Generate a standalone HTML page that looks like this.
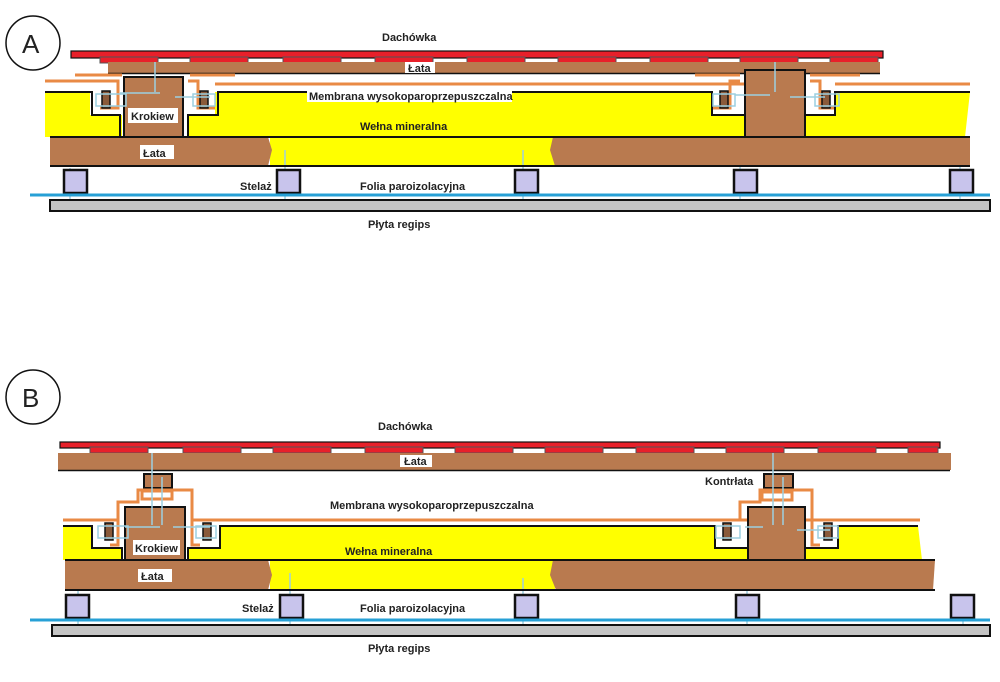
<!DOCTYPE html>
<html><head><meta charset="utf-8"><style>
html,body{margin:0;padding:0;background:#fff;width:1000px;height:682px;overflow:hidden}
svg{display:block}
text{font-family:"Liberation Sans",sans-serif;font-size:11px;font-weight:bold;fill:#222}
</style></head><body>
<svg width="1000" height="682" viewBox="0 0 1000 682" xmlns="http://www.w3.org/2000/svg">
<defs>
<g id="tiles">
 <rect x="0" y="0" width="815" height="6" fill="#e8202a" stroke="#111" stroke-width="1"/>
</g>
</defs>

<!-- ===== A ===== -->
<circle cx="33" cy="43" r="27" fill="#fff" stroke="#111" stroke-width="1.5"/>
<text x="22" y="53" style="font-size:26px;font-weight:normal">A</text>
<text x="382" y="41">Dachówka</text>
<!-- tiles -->
<rect x="71" y="51" width="812" height="7" fill="#e8202a" stroke="#111" stroke-width="1.2"/>
<g fill="#e8202a" stroke="#555" stroke-width="1">
 <rect x="100" y="57" width="58" height="6"/><rect x="190" y="57" width="58" height="6"/><rect x="283" y="57" width="58" height="6"/><rect x="375" y="57" width="58" height="6"/><rect x="467" y="57" width="58" height="6"/><rect x="558" y="57" width="58" height="6"/><rect x="650" y="57" width="58" height="6"/><rect x="740" y="57" width="58" height="6"/><rect x="830" y="57" width="48" height="6"/>
</g>
<rect x="108" y="62" width="772" height="11" fill="#b97a4f"/>
<line x1="108" y1="73.5" x2="880" y2="73.5" stroke="#111" stroke-width="1.5"/>
<rect x="405" y="62" width="30" height="11" fill="#fff"/><text x="408" y="72">Łata</text>
<!-- membrane orange -->
<g stroke="#e98a45" stroke-width="3" fill="none">
 <polyline points="45,81 118,81 118,108 100,108"/>
 <polyline points="75,75 122,75"/>
 <polyline points="190,75 235,75"/>
 <polyline points="188,81 198,81 198,108 215,108"/>
 <line x1="215" y1="84" x2="745" y2="84"/>
 <polyline points="695,75 740,75"/><polyline points="810,75 860,75"/>
 <polyline points="740,81 730,81 730,108 712,108"/>
 <polyline points="810,81 820,81 820,108 835,108"/>
 <line x1="835" y1="84" x2="970" y2="84"/>
</g>
<!-- wool A -->
<path d="M45,92 L90,92 L90,115 L122,115 L122,137 L45,137 Z" fill="#ffff00"/>
<path d="M188,137 L188,115 L215,115 L215,92 L712,92 L712,115 L745,115 L745,137 Z" fill="#ffff00"/>
<path d="M805,137 L805,115 L835,115 L835,92 L970,92 L965,137 Z" fill="#ffff00"/>
<rect x="270" y="137" width="285" height="29" fill="#ffff00"/>
<g stroke="#111" stroke-width="2" fill="none">
 <polyline points="45,92 92,92 92,115 120,115 120,137"/>
 <polyline points="188,137 188,115 218,115 218,92 712,92 712,115 745,115"/>
 <polyline points="805,115 835,115 835,92 970,92"/>
</g>
<!-- rafters A -->
<rect x="124" y="77" width="59" height="60" fill="#b97a4f" stroke="#111" stroke-width="2"/>
<rect x="745" y="70" width="60" height="67" fill="#b97a4f" stroke="#111" stroke-width="2"/>
<rect x="128" y="108" width="50" height="15" fill="#fff"/><text x="131" y="120">Krokiew</text>
<!-- clips -->
<g fill="#8a5a3a" stroke="#111" stroke-width="1.5">
 <rect x="102" y="91" width="8" height="17"/><rect x="200" y="91" width="8" height="17"/>
 <rect x="720" y="91" width="8" height="17"/><rect x="822" y="91" width="8" height="17"/>
</g>
<g stroke="#9ccfe0" stroke-width="1.5" fill="none">
 <rect x="96" y="94" width="30" height="12"/><rect x="193" y="94" width="22" height="12"/>
 <rect x="713" y="94" width="22" height="12"/><rect x="815" y="94" width="24" height="12"/>
 <line x1="155" y1="62" x2="155" y2="92"/><line x1="775" y1="62" x2="775" y2="92"/>
 <line x1="120" y1="93" x2="160" y2="93"/><line x1="175" y1="97" x2="210" y2="97"/>
 <line x1="735" y1="95" x2="770" y2="95"/><line x1="790" y1="97" x2="825" y2="97"/>
 <line x1="285" y1="150" x2="285" y2="212"/><line x1="70" y1="168" x2="70" y2="208"/>
 <line x1="523" y1="150" x2="523" y2="212"/><line x1="740" y1="155" x2="740" y2="212"/><line x1="960" y1="155" x2="960" y2="212"/>
</g>
<!-- lower lath A -->
<path d="M50,137 L268,137 L272,150 L268,166 L50,166 Z" fill="#b97a4f"/>
<path d="M553,137 L970,137 L970,166 L555,166 L550,150 Z" fill="#b97a4f"/>
<g stroke="#111" stroke-width="2"><line x1="50" y1="137" x2="970" y2="137"/><line x1="50" y1="166" x2="970" y2="166"/></g>
<rect x="140" y="145" width="34" height="14" fill="#fff"/><text x="143" y="157">Łata</text>
<text x="360" y="130">Wełna mineralna</text>
<rect x="307" y="89" width="205" height="13" fill="#fff"/><text x="309" y="100">Membrana wysokoparoprzepuszczalna</text>
<!-- stelaz A -->
<g fill="#c8c4ec" stroke="#111" stroke-width="2.5">
 <rect x="64" y="170" width="23" height="23"/><rect x="277" y="170" width="23" height="23"/><rect x="515" y="170" width="23" height="23"/><rect x="734" y="170" width="23" height="23"/><rect x="950" y="170" width="23" height="23"/>
</g>
<line x1="30" y1="195" x2="990" y2="195" stroke="#27a0d6" stroke-width="3"/>
<rect x="50" y="200" width="940" height="11" fill="#c4c4c4" stroke="#111" stroke-width="2"/>
<text x="240" y="190">Stelaż</text><text x="360" y="190">Folia paroizolacyjna</text>
<text x="368" y="228">Płyta regips</text>

<!-- ===== B ===== -->
<circle cx="33" cy="397" r="27" fill="#fff" stroke="#111" stroke-width="1.5"/>
<text x="22" y="407" style="font-size:26px;font-weight:normal">B</text>
<text x="378" y="430">Dachówka</text>
<rect x="60" y="442" width="880" height="6" fill="#e8202a" stroke="#111" stroke-width="1.2"/>
<g fill="#e8202a" stroke="#555" stroke-width="1">
 <rect x="90" y="447" width="58" height="6"/><rect x="183" y="447" width="58" height="6"/><rect x="273" y="447" width="58" height="6"/><rect x="365" y="447" width="58" height="6"/><rect x="455" y="447" width="58" height="6"/><rect x="545" y="447" width="58" height="6"/><rect x="636" y="447" width="58" height="6"/><rect x="726" y="447" width="58" height="6"/><rect x="818" y="447" width="58" height="6"/><rect x="908" y="447" width="30" height="6"/>
</g>
<rect x="58" y="453" width="893" height="17" fill="#b97a4f"/>
<line x1="58" y1="470.5" x2="950" y2="470.5" stroke="#111" stroke-width="1.5"/>
<rect x="400" y="455" width="32" height="12" fill="#fff"/><text x="404" y="465">Łata</text>
<!-- kontrlata -->
<rect x="144" y="474" width="28" height="14" fill="#b97a4f" stroke="#111" stroke-width="2"/>
<rect x="764" y="474" width="29" height="14" fill="#b97a4f" stroke="#111" stroke-width="2"/>
<text x="705" y="485">Kontrłata</text>
<!-- membrane B -->
<g stroke="#e98a45" stroke-width="3" fill="none">
 <polyline points="63,520 118,520 118,545 110,545"/>
 <polyline points="118,520 118,502 138,502 138,490 192,490 192,545 200,545"/>
 <polyline points="192,520 920,520"/>
 <polyline points="740,520 740,502 760,502 760,490 812,490 812,545 820,545"/>
 <rect x="142" y="491" width="30" height="8"/><rect x="762" y="492" width="30" height="8"/>
</g>
<path d="M63,526 L92,526 L92,548 L122,548 L122,560 L63,560 Z" fill="#ffff00"/>
<path d="M188,560 L188,548 L220,548 L220,526 L715,526 L715,548 L748,548 L748,560 Z" fill="#ffff00"/>
<path d="M805,560 L805,548 L838,548 L838,526 L918,526 L922,560 Z" fill="#ffff00"/>
<rect x="270" y="560" width="285" height="30" fill="#ffff00"/>
<g stroke="#111" stroke-width="2" fill="none">
 <polyline points="63,526 92,526 92,548 122,548 122,560"/>
 <polyline points="188,560 188,548 220,548 220,526 715,526 715,548 748,548"/>
 <polyline points="805,548 838,548 838,526 918,526"/>
</g>
<rect x="125" y="507" width="60" height="53" fill="#b97a4f" stroke="#111" stroke-width="2"/>
<rect x="748" y="507" width="57" height="53" fill="#b97a4f" stroke="#111" stroke-width="2"/>
<rect x="133" y="540" width="47" height="15" fill="#fff"/><text x="135" y="552">Krokiew</text>
<g fill="#8a5a3a" stroke="#111" stroke-width="1.5">
 <rect x="105" y="523" width="8" height="17"/><rect x="203" y="523" width="8" height="17"/>
 <rect x="723" y="523" width="8" height="17"/><rect x="824" y="523" width="8" height="17"/>
</g>
<g stroke="#9ccfe0" stroke-width="1.5" fill="none">
 <rect x="98" y="526" width="30" height="12"/><rect x="196" y="526" width="20" height="12"/>
 <rect x="716" y="526" width="24" height="12"/><rect x="818" y="526" width="20" height="12"/>
 <line x1="152" y1="453" x2="152" y2="525"/><line x1="162" y1="477" x2="162" y2="525"/>
 <line x1="773" y1="453" x2="773" y2="525"/><line x1="783" y1="477" x2="783" y2="525"/>
 <line x1="125" y1="527" x2="160" y2="527"/><line x1="173" y1="527" x2="210" y2="527"/>
 <line x1="745" y1="527" x2="763" y2="527"/><line x1="797" y1="530" x2="830" y2="530"/>
 <line x1="78" y1="575" x2="78" y2="633"/><line x1="290" y1="573" x2="290" y2="636"/>
 <line x1="523" y1="578" x2="523" y2="636"/><line x1="747" y1="580" x2="747" y2="636"/><line x1="963" y1="595" x2="963" y2="636"/>
</g>
<path d="M65,560 L268,560 L272,575 L268,590 L65,590 Z" fill="#b97a4f"/>
<path d="M553,560 L935,560 L933,590 L556,590 L550,575 Z" fill="#b97a4f"/>
<g stroke="#111" stroke-width="2"><line x1="65" y1="560" x2="935" y2="560"/><line x1="65" y1="590" x2="935" y2="590"/></g>
<rect x="138" y="569" width="34" height="13" fill="#fff"/><text x="141" y="580">Łata</text>
<text x="330" y="509">Membrana wysokoparoprzepuszczalna</text>
<text x="345" y="555">Wełna mineralna</text>
<g fill="#c8c4ec" stroke="#111" stroke-width="2.5">
 <rect x="66" y="595" width="23" height="23"/><rect x="280" y="595" width="23" height="23"/><rect x="515" y="595" width="23" height="23"/><rect x="736" y="595" width="23" height="23"/><rect x="951" y="595" width="23" height="23"/>
</g>
<line x1="30" y1="620" x2="990" y2="620" stroke="#27a0d6" stroke-width="3"/>
<rect x="52" y="625" width="938" height="11" fill="#c4c4c4" stroke="#111" stroke-width="2"/>
<text x="242" y="612">Stelaż</text><text x="360" y="612">Folia paroizolacyjna</text>
<text x="368" y="652">Płyta regips</text>
</svg>
</body></html>
